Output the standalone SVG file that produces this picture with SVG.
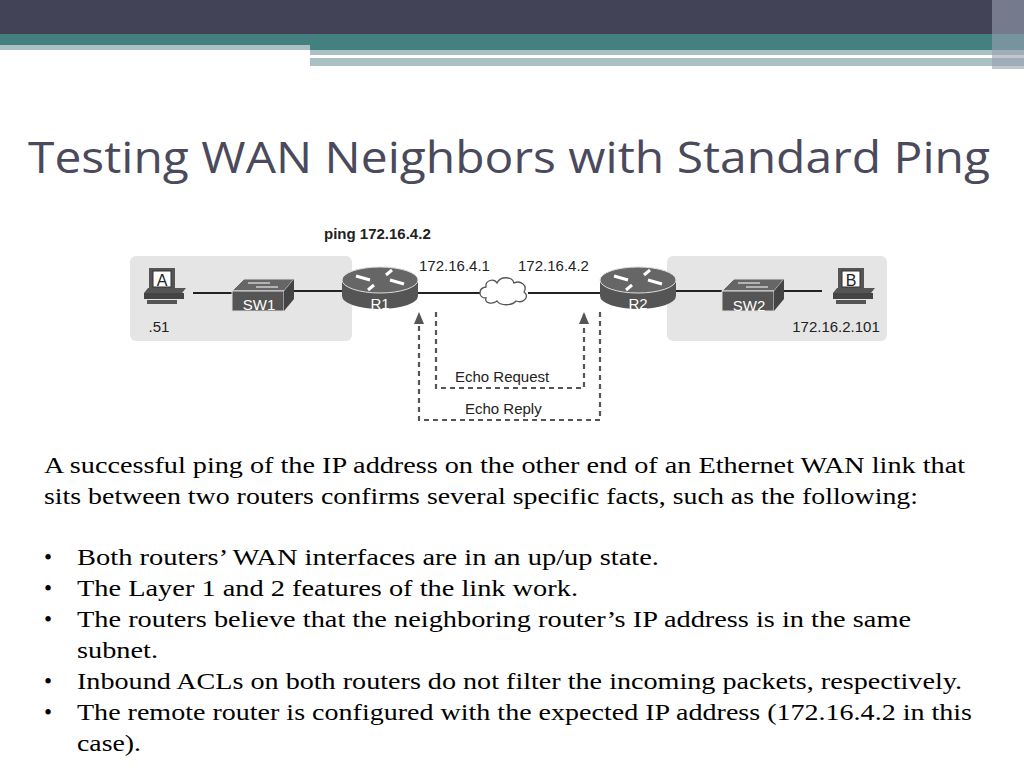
<svg xmlns="http://www.w3.org/2000/svg" width="1024" height="768" viewBox="0 0 1024 768">
<style>
.t{font-family:"Liberation Sans",Arial,sans-serif;fill:#222}
.b{font-family:"Liberation Serif","Times New Roman",serif;font-size:23px;fill:#000}
.ln{stroke:#222;stroke-width:2;fill:none}
.d{stroke:#555;stroke-width:2.2;fill:none;stroke-dasharray:5,4}
.w{font-family:"Liberation Sans",Arial,sans-serif;font-size:15px;fill:#fff}
</style>
<defs>
<marker id="ah" markerWidth="12" markerHeight="10" refX="10" refY="5" orient="auto" markerUnits="userSpaceOnUse"><path d="M0,0 L12,5 L0,10 Z" fill="#555"/></marker>
<g id="pc"><rect x="-13" y="-24" width="26" height="24" fill="#555"/><rect x="-9" y="-21" width="18" height="16" fill="#fff" stroke="#333"/><path d="M-18,1 L20,1 L24,-4 L-14,-4 Z" fill="#555"/><rect x="-18" y="1" width="40" height="6" fill="#444"/><rect x="-15" y="8" width="30" height="4" fill="#555"/></g>
<g id="sw"><path d="M-30,-4 L-18,-16 L32,-16 L22,-4 Z" fill="#666" stroke="#ddd" stroke-width="1"/><rect x="-30" y="-4" width="52" height="20" fill="#555" stroke="#ddd" stroke-width="1"/><path d="M22,-4 L32,-16 L32,4 L22,16 Z" fill="#444"/><path d="M-14,-12 L8,-12 M-6,-8 L16,-8" stroke="#fff" stroke-width="1.2"/></g>
<g id="rt"><path d="M-38,-8 L-38,8 A38,13 0 0 0 38,8 L38,-8 Z" fill="#555"/><ellipse cx="0" cy="-8" rx="38" ry="13" fill="#666" stroke="#ddd" stroke-width="1"/><path d="M-24,-12 L-10,-8 M24,-4 L10,-8 M-6,-3 L-12,2 M6,-13 L12,-18" stroke="#fff" stroke-width="3"/></g>
</defs>
<rect width="1024" height="768" fill="#fff"/>
<rect width="1024" height="34" fill="#434358"/>
<rect y="34" width="1024" height="11" fill="#448080"/>
<rect y="45" width="310" height="5" fill="#a9c1c3"/>
<rect x="310" y="45" width="714" height="5" fill="#448080"/>
<rect x="310" y="50" width="714" height="5" fill="#a9c1c3"/>
<rect x="310" y="55" width="640" height="3" fill="#fff"/>
<rect x="310" y="58" width="714" height="8" fill="#a9c1c3"/>
<rect x="420" y="66" width="604" height="3" fill="#fff"/>
<rect x="992" y="0" width="32" height="69" fill="#9aa0b0" opacity="0.6"/>
<text x="28" y="173" font-family="Open Sans,'Liberation Sans',sans-serif" font-size="44" fill="#4a4a5c" textLength="962" lengthAdjust="spacingAndGlyphs">Testing WAN Neighbors with Standard Ping</text>
<rect x="130" y="256" width="222" height="85" rx="6" fill="#e5e5e5"/>
<rect x="667" y="256" width="220" height="85" rx="6" fill="#e5e5e5"/>
<g id="connectors">
<path class="ln" d="M193,293 L232,293 M294,291 L342,291 M418,293 L482,293 M528,293 L600,293 M676,291 L722,291 M784,291 L822,291"/>
<path class="d" d="M436,312 L436,388 L584,388 L584,314" marker-end="url(#ah)"/>
<path class="d" d="M600,312 L600,420 L419,420 L419,314" marker-end="url(#ah)"/>
</g>
<g id="A"><use href="#pc" x="162" y="292"/><text class="t" x="162" y="286" font-size="16" text-anchor="middle">A</text><text class="t" x="159" y="332" font-size="15" text-anchor="middle">.51</text></g>
<g id="SW1"><use href="#sw" x="262" y="295"/><text class="w" x="259" y="310" text-anchor="middle">SW1</text></g>
<g id="R1"><use href="#rt" x="380" y="288"/><text class="w" x="380" y="309" text-anchor="middle">R1</text></g>
<g id="cloud"><path d="M486,298 C478,298 478,288 486,287 C485,280 494,278 497,283 C500,276 512,276 514,283 C520,280 528,285 524,292 C530,296 524,304 516,301 C512,306 500,306 497,301 C492,305 484,303 486,298 Z" fill="#fff" stroke="#555" stroke-width="1.3"/></g>
<g id="R2"><use href="#rt" x="638" y="288"/><text class="w" x="638" y="309" text-anchor="middle">R2</text></g>
<g id="SW2"><use href="#sw" x="752" y="295"/><text class="w" x="749" y="311" text-anchor="middle">SW2</text></g>
<g id="B"><use href="#pc" x="851" y="292"/><text class="t" x="851" y="286" font-size="16" text-anchor="middle">B</text><text class="t" x="836" y="332" font-size="15" text-anchor="middle">172.16.2.101</text></g>
<text class="t" x="324" y="239" font-size="15" font-weight="bold">ping 172.16.4.2</text>
<text class="t" x="419" y="271" font-size="15">172.16.4.1</text>
<text class="t" x="518" y="271" font-size="15">172.16.4.2</text>
<text class="t" x="455" y="382" font-size="15">Echo Request</text>
<text class="t" x="465" y="414" font-size="15">Echo Reply</text>
<g class="b">
<text x="44" y="473" textLength="921" lengthAdjust="spacingAndGlyphs">A successful ping of the IP address on the other end of an Ethernet WAN link that</text>
<text x="44" y="504" textLength="874" lengthAdjust="spacingAndGlyphs">sits between two routers confirms several specific facts, such as the following:</text>
<text x="44" y="565">•</text><text x="77" y="565" textLength="582" lengthAdjust="spacingAndGlyphs">Both routers’ WAN interfaces are in an up/up state.</text>
<text x="44" y="596">•</text><text x="77" y="596" textLength="501" lengthAdjust="spacingAndGlyphs">The Layer 1 and 2 features of the link work.</text>
<text x="44" y="627">•</text><text x="77" y="627" textLength="834" lengthAdjust="spacingAndGlyphs">The routers believe that the neighboring router’s IP address is in the same</text>
<text x="77" y="658" textLength="81" lengthAdjust="spacingAndGlyphs">subnet.</text>
<text x="44" y="689">•</text><text x="77" y="689" textLength="885" lengthAdjust="spacingAndGlyphs">Inbound ACLs on both routers do not filter the incoming packets, respectively.</text>
<text x="44" y="720">•</text><text x="77" y="720" textLength="895" lengthAdjust="spacingAndGlyphs">The remote router is configured with the expected IP address (172.16.4.2 in this</text>
<text x="77" y="751" textLength="64" lengthAdjust="spacingAndGlyphs">case).</text>
</g>
</svg>
